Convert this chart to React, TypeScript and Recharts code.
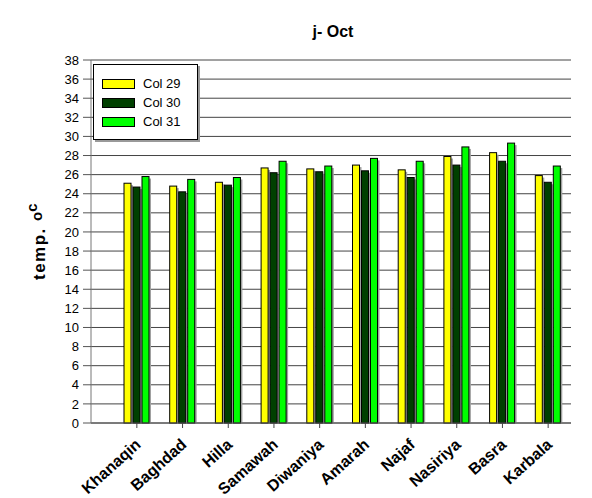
import { BarChart, Bar, XAxis, YAxis, CartesianGrid, Legend } from "recharts"

const stations = ["Khanaqin", "Baghdad", "Hilla", "Samawah", "Diwaniya", "Amarah", "Najaf", "Nasiriya", "Basra", "Karbala"]
const col29 = [25.1, 24.8, 25.2, 26.7, 26.6, 27.0, 26.5, 27.9, 28.3, 25.9]
const col30 = [24.7, 24.2, 24.9, 26.2, 26.3, 26.4, 25.7, 27.0, 27.4, 25.2]
const col31 = [25.8, 25.5, 25.7, 27.4, 26.9, 27.7, 27.4, 28.9, 29.3, 26.9]
const yTicks = [0, 2, 4, 6, 8, 10, 12, 14, 16, 18, 20, 22, 24, 26, 28, 30, 32, 34, 36, 38]

const series = [
  { key: "col29", name: "Col 29", color: "#ffff00" },
  { key: "col30", name: "Col 30", color: "#004000" },
  { key: "col31", name: "Col 31", color: "#00ff00" },
]

const chartData = stations.map((station, i) => ({
  station,
  col29: col29[i],
  col30: col30[i],
  col31: col31[i],
}))

const font = "Arial, 'Liberation Sans', sans-serif"

// bar with a soft gray drop shadow, like the old spreadsheet look
function ShadowBar(props: any) {
  const { x, y, width, height, fill } = props
  if (!height) return null
  return (
    <g>
      <rect x={x + 2} y={y + 2} width={width} height={height - 2} fill="#a0a0a0" />
      <rect x={x} y={y} width={width} height={height} fill={fill} stroke="#000" strokeWidth={1} />
    </g>
  )
}

function StationTick(props: any) {
  const { x, y, payload } = props
  const tx = x + 5
  const ty = y + 16
  return (
    <text
      x={tx}
      y={ty}
      transform={`rotate(-42, ${tx}, ${ty})`}
      textAnchor="end"
      fontFamily={font}
      fontWeight="bold"
      fontSize={16}
      fill="#000"
    >
      {payload.value}
    </text>
  )
}

function LegendBox() {
  return (
    <div
      style={{
        width: 105,
        height: 76,
        border: "1px solid #000",
        boxShadow: "2px 2px 0 #999",
        background: "#fff",
        fontFamily: font,
        fontSize: 13,
        padding: "9px 0 0 8px",
        boxSizing: "border-box",
        textAlign: "left",
      }}
    >
      {series.map((s) => (
        <div key={s.key} style={{ display: "flex", alignItems: "center", height: 19 }}>
          <span style={{ width: 31, height: 8, background: s.color, border: "1px solid #000", marginRight: 8 }} />
          <span>{s.name}</span>
        </div>
      ))}
    </div>
  )
}

function YTitle() {
  return (
    <text
      transform="translate(44.5, 280) rotate(-90)"
      fontFamily={font}
      fontWeight="bold"
      fontSize={17}
      letterSpacing={1.5}
      fill="#000"
    >
      temp.{" "}
      <tspan fontSize={15} letterSpacing={0} dy={-3}>o</tspan>
      <tspan fontSize={15} letterSpacing={0} dy={-5}>c</tspan>
    </text>
  )
}

export default function App() {
  return (
    <div style={{ position: "absolute", left: 0, top: 0, width: 592, height: 498, background: "#fff" }}>
      <BarChart
        width={592}
        height={498}
        data={chartData}
        margin={{ top: 60, right: 21, left: 0, bottom: 0 }}
        barSize={7}
        barGap={2}
      >
        <CartesianGrid vertical={false} stroke="#444" strokeWidth={1} />
        <XAxis
          dataKey="station"
          height={75}
          interval={0}
          padding={{ left: 23, right: 0 }}
          tick={<StationTick />}
          tickLine={{ stroke: "#444" }}
          tickSize={5}
          axisLine={{ stroke: "#555" }}
        />
        <YAxis
          width={91}
          domain={[0, 38]}
          ticks={yTicks}
          interval={0}
          tick={{ fontFamily: font, fontSize: 13, fill: "#000" }}
          tickLine={{ stroke: "#555" }}
          tickSize={8}
          tickMargin={4}
          axisLine={{ stroke: "#777" }}
        />
        {/* vertical + center + middle keeps the legend from reserving plot space */}
        <Legend
          content={<LegendBox />}
          layout="vertical"
          align="center"
          verticalAlign="middle"
          wrapperStyle={{ left: 93, top: 64, width: 107 }}
        />
        {series.map((s) => (
          <Bar key={s.key} dataKey={s.key} name={s.name} fill={s.color} shape={<ShadowBar />} isAnimationActive={false} />
        ))}
        <text x={333} y={37} textAnchor="middle" fontFamily={font} fontWeight="bold" fontSize={16} fill="#000">
          j- Oct
        </text>
        <YTitle />
      </BarChart>
    </div>
  )
}
